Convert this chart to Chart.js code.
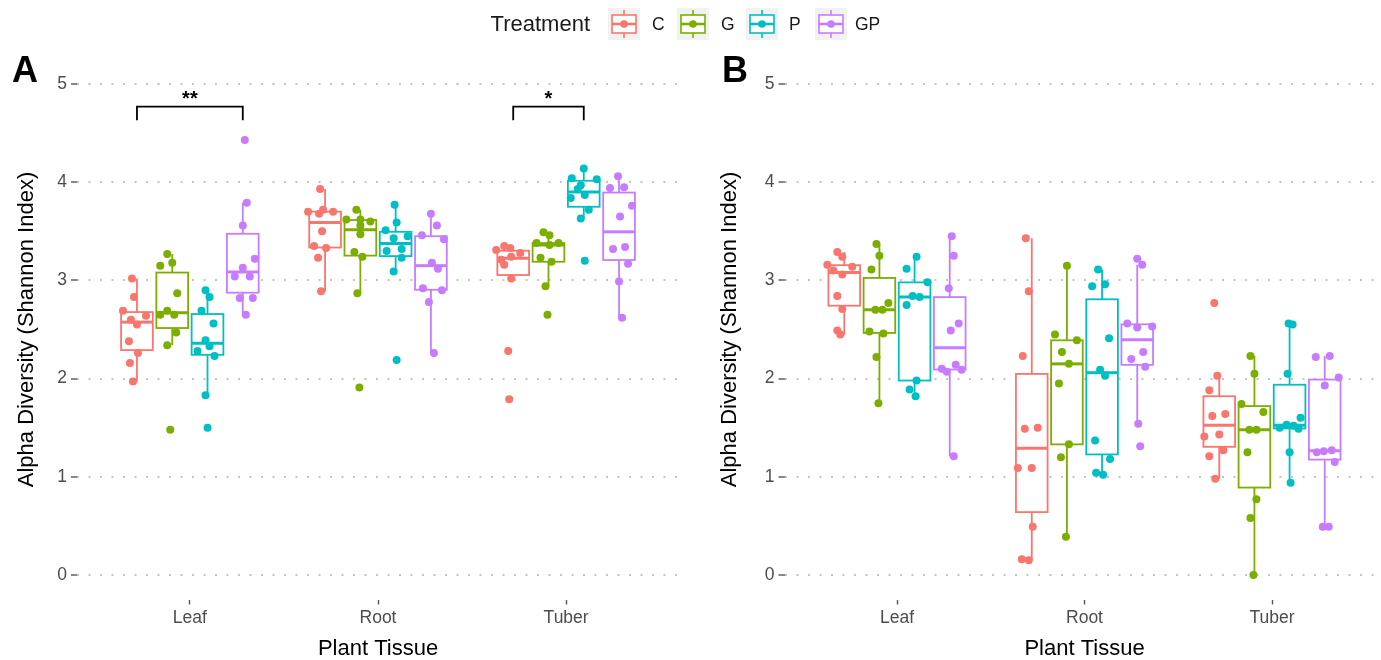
<!DOCTYPE html>
<html><head><meta charset="utf-8">
<script src="https://cdn.jsdelivr.net/npm/chart.js@4.4.1/dist/chart.umd.min.js"></script>
<style>
html,body{margin:0;padding:0;width:1381px;height:660px;overflow:hidden;background:#fff;font-family:"Liberation Sans",Arial,sans-serif;}
.wrap{position:absolute;top:0;height:660px;}
#wrapA{left:0;width:690px;}
#wrapB{left:690px;width:700px;}
.plabel{position:absolute;top:52px;font-size:36px;line-height:36px;font-weight:bold;color:#000;}
#ltitle{position:absolute;left:0;width:590px;text-align:right;top:13px;font-size:22px;line-height:22px;color:#1a1a1a;}
.lkey{position:absolute;top:8px;width:32px;height:32px;}
.ltext{position:absolute;top:15px;font-size:17.5px;line-height:18px;color:#1a1a1a;}
</style></head><body>
<div class="wrap" id="wrapA"><canvas id="cA" width="690" height="660" style="width:690px;height:660px"></canvas></div>
<div class="wrap" id="wrapB"><canvas id="cB" width="700" height="660" style="width:700px;height:660px"></canvas></div>
<div class="plabel" style="left:12px">A</div>
<div class="plabel" style="left:722px">B</div>
<div id="ltitle">Treatment</div>
<div id="legend"></div>
<script>
// ---------- data ----------
const categories = ['Leaf', 'Root', 'Tuber'];
const treatments = ['C', 'G', 'P', 'GP'];
const yTicks = [0, 1, 2, 3, 4, 5];

// Panel A values (Alpha Diversity, Shannon Index)
const A_Leaf_C  = [3.02, 2.83, 2.69, 2.64, 2.60, 2.55, 2.38, 2.26, 2.16, 1.97];
const A_Leaf_G  = [3.27, 3.15, 3.18, 2.87, 2.69, 2.65, 2.65, 2.47, 2.34, 1.48];
const A_Leaf_P  = [2.90, 2.83, 2.69, 2.56, 2.39, 2.28, 2.33, 2.23, 1.83, 1.50];
const A_Leaf_GP = [4.43, 3.79, 3.56, 3.22, 3.13, 3.04, 3.04, 2.82, 2.82, 2.65];
const A_Root_C  = [3.93, 3.70, 3.72, 3.70, 3.50, 3.35, 3.33, 3.23, 2.89, 3.68];
const A_Root_G  = [3.72, 3.62, 3.62, 3.60, 3.56, 3.47, 3.29, 3.24, 2.87, 1.91];
const A_Root_P  = [3.77, 3.59, 3.51, 3.43, 3.45, 3.32, 3.30, 3.23, 3.09, 2.19];
const A_Root_GP = [3.68, 3.56, 3.46, 3.42, 3.18, 3.12, 2.92, 2.90, 2.78, 2.26];
const A_Tuber_C  = [3.31, 3.35, 3.33, 3.28, 3.21, 3.24, 3.16, 3.02, 2.28, 1.79];
const A_Tuber_G  = [3.49, 3.46, 3.38, 3.38, 3.36, 3.23, 3.19, 2.94, 2.65];
const A_Tuber_P  = [4.14, 4.04, 4.03, 3.97, 3.93, 3.87, 3.84, 3.72, 3.63, 3.20];
const A_Tuber_GP = [4.06, 3.94, 3.95, 3.76, 3.65, 3.32, 3.34, 3.17, 2.99, 2.62];

// Panel B values
const B_Leaf_C  = [3.29, 3.24, 3.16, 3.14, 3.10, 3.06, 2.84, 2.71, 2.49, 2.45];
const B_Leaf_G  = [3.37, 3.25, 3.11, 2.77, 2.70, 2.70, 2.48, 2.46, 2.22, 1.75];
const B_Leaf_P  = [3.24, 3.12, 2.98, 2.84, 2.83, 2.75, 1.98, 1.89, 1.82];
const B_Leaf_GP = [3.45, 3.25, 2.92, 2.56, 2.49, 2.10, 2.07, 2.14, 2.09, 1.21];
const B_Root_C  = [3.43, 2.89, 2.23, 1.49, 1.50, 1.09, 1.09, 0.49, 0.16, 0.15];
const B_Root_G  = [3.15, 2.45, 2.39, 2.27, 2.15, 1.95, 1.33, 1.20, 0.39];
const B_Root_P  = [3.11, 2.96, 2.94, 2.41, 2.09, 2.03, 1.37, 1.18, 1.04, 1.02];
const B_Root_GP = [3.22, 3.16, 2.56, 2.52, 2.53, 2.27, 2.20, 2.12, 1.54, 1.31];
const B_Tuber_C  = [2.77, 2.03, 1.88, 1.62, 1.64, 1.41, 1.43, 1.21, 1.27, 0.98];
const B_Tuber_G  = [2.23, 2.05, 1.74, 1.66, 1.48, 1.48, 1.25, 0.77, 0.58, 0.00];
const B_Tuber_P  = [2.56, 2.55, 2.05, 1.60, 1.50, 1.53, 1.52, 1.49, 1.25, 0.94];
const B_Tuber_GP = [2.22, 2.23, 2.01, 1.93, 1.25, 1.26, 1.27, 1.15, 0.49, 0.49];

// Horizontal jitter of each point (steps of 1/188 category width)
const jA_Leaf_C  = [-5, -3, -14, 9, -6, 0, -8, 1, -7, -4];
const jA_Leaf_G  = [-5, -12, 0, 5, -5, -12, 2, 4, -5, -2];
const jA_Leaf_P  = [-2, 2, -6, 6, -2, -10, 2, 7, -2, 0];
const jA_Leaf_GP = [2, 4, 0, 12, 0, -8, 7, -3, 10, 3];
const jA_Root_C  = [-5, -17, -2, 8, -3, -11, 1, -7, -4, -6];
const jA_Root_G  = [-4, -14, 0, 10, 0, 0, -6, 2, -3, -1];
const jA_Root_P  = [-1, 1, -10, -2, 12, 6, -9, 6, -2, 1];
const jA_Root_GP = [0, 6, -9, 13, 1, 7, -8, 11, -2, 3];
const jA_Tuber_C  = [-17, -9, -3, 7, -12, -2, -9, -2, -5, -4];
const jA_Tuber_G  = [-5, 1, -12, 10, 1, -8, 3, -3, -1];
const jA_Tuber_P  = [0, -12, 13, -3, -6, 1, -13, 5, -3, 1];
const jA_Tuber_GP = [-1, -9, 5, 13, 1, -6, 6, 9, 0, 3];
const jB_Leaf_C  = [-7, -2, -17, 8, -11, -2, -7, -2, -7, -4];
const jB_Leaf_G  = [-3, 0, -8, 9, -4, 3, -10, 4, -3, -1];
const jB_Leaf_P  = [2, -8, 13, -2, 5, -8, 2, -5, 1];
const jB_Leaf_GP = [2, 4, -1, 9, 1, -8, -3, 6, 12, 4];
const jB_Root_C  = [-6, -3, -9, -7, 6, -14, 0, 1, -10, -3];
const jB_Root_G  = [0, -12, 10, -5, 2, -8, 2, -6, -1];
const jB_Root_P  = [-4, 3, -10, 7, -2, 3, -7, 8, -6, 1];
const jB_Root_GP = [0, 5, -10, 0, 15, 6, -6, 8, 1, 3];
const jB_Tuber_C  = [-5, -2, -10, -7, 6, -15, 0, -10, 4, -4];
const jB_Tuber_G  = [-4, 0, -13, 9, -5, 2, -7, 2, -4, -1];
const jB_Tuber_P  = [-1, 3, -2, 11, -10, -3, 4, 9, 0, 1];
const jB_Tuber_GP = [-9, 5, 14, 0, -8, -1, 7, 10, -2, 4];

// Significance brackets (panel A)
const sigA = [
  {tissue: 'Leaf',  from: 'C', to: 'GP', y: 4.77, tip: 0.14, label: '**'},
  {tissue: 'Tuber', from: 'C', to: 'P',  y: 4.77, tip: 0.14, label: '*'}
];
const sigB = [];

// ---------- styling ----------
const FONT = '"Liberation Sans", Arial, sans-serif';
const colors = {C: '#F8766D', G: '#7CAE00', P: '#00BFC4', GP: '#C77CFF'};
const DODGE = 0.1875, BOXW = 0.9 * 0.1875, JSTEP = 1 / 188;
const dodgeOf = t => (treatments.indexOf(t) - 1.5) * DODGE;
Chart.defaults.font.family = FONT;

const tableA = {
  Leaf:  {C: [A_Leaf_C, jA_Leaf_C], G: [A_Leaf_G, jA_Leaf_G], P: [A_Leaf_P, jA_Leaf_P], GP: [A_Leaf_GP, jA_Leaf_GP]},
  Root:  {C: [A_Root_C, jA_Root_C], G: [A_Root_G, jA_Root_G], P: [A_Root_P, jA_Root_P], GP: [A_Root_GP, jA_Root_GP]},
  Tuber: {C: [A_Tuber_C, jA_Tuber_C], G: [A_Tuber_G, jA_Tuber_G], P: [A_Tuber_P, jA_Tuber_P], GP: [A_Tuber_GP, jA_Tuber_GP]}
};
const tableB = {
  Leaf:  {C: [B_Leaf_C, jB_Leaf_C], G: [B_Leaf_G, jB_Leaf_G], P: [B_Leaf_P, jB_Leaf_P], GP: [B_Leaf_GP, jB_Leaf_GP]},
  Root:  {C: [B_Root_C, jB_Root_C], G: [B_Root_G, jB_Root_G], P: [B_Root_P, jB_Root_P], GP: [B_Root_GP, jB_Root_GP]},
  Tuber: {C: [B_Tuber_C, jB_Tuber_C], G: [B_Tuber_G, jB_Tuber_G], P: [B_Tuber_P, jB_Tuber_P], GP: [B_Tuber_GP, jB_Tuber_GP]}
};

function q7(s, p) {
  const h = (s.length - 1) * p, lo = Math.floor(h), hi = Math.min(lo + 1, s.length - 1);
  return s[lo] + (h - lo) * (s[hi] - s[lo]);
}
function boxStats(vals) {
  const s = [...vals].sort((a, b) => a - b);
  const q1 = q7(s, 0.25), med = q7(s, 0.5), q3 = q7(s, 0.75), iqr = q3 - q1;
  const inside = s.filter(v => v >= q1 - 1.5 * iqr && v <= q3 + 1.5 * iqr);
  return {q1, med, q3, lo: inside[0], hi: inside[inside.length - 1]};
}

function buildDatasets(table) {
  return treatments.map(t => ({
    label: t,
    data: categories.flatMap((c, ci) => {
      const [vals, jit] = table[c][t];
      return vals.map((v, i) => ({x: ci + 1 + dodgeOf(t) + jit[i] * JSTEP, y: v}));
    }),
    backgroundColor: colors[t],
    borderWidth: 0,
    pointRadius: 4,
    pointHoverRadius: 4
  }));
}

function boxPlugin(table) {
  return {
    id: 'boxes',
    beforeDatasetsDraw(chart) {
      const {ctx, scales: {x, y}} = chart;
      categories.forEach((c, ci) => treatments.forEach(t => {
        const st = boxStats(table[c][t][0]);
        const xc = ci + 1 + dodgeOf(t);
        const xl = x.getPixelForValue(xc - BOXW / 2), xr = x.getPixelForValue(xc + BOXW / 2), xm = x.getPixelForValue(xc);
        const yt = y.getPixelForValue(st.q3), yb = y.getPixelForValue(st.q1), ym = y.getPixelForValue(st.med);
        ctx.save();
        ctx.strokeStyle = colors[t];
        ctx.lineWidth = 1.8;
        ctx.beginPath();
        ctx.moveTo(xm, y.getPixelForValue(st.hi)); ctx.lineTo(xm, yt);
        ctx.moveTo(xm, yb); ctx.lineTo(xm, y.getPixelForValue(st.lo));
        ctx.stroke();
        ctx.fillStyle = '#fff';
        ctx.fillRect(xl, yt, xr - xl, yb - yt);
        ctx.strokeRect(xl, yt, xr - xl, yb - yt);
        ctx.lineWidth = 3;
        ctx.beginPath(); ctx.moveTo(xl, ym); ctx.lineTo(xr, ym); ctx.stroke();
        ctx.restore();
      }));
    }
  };
}

function sigPlugin(sigs) {
  return {
    id: 'sig',
    afterDatasetsDraw(chart) {
      const {ctx, scales: {x, y}} = chart;
      sigs.forEach(s => {
        const ci = categories.indexOf(s.tissue) + 1;
        const x1 = x.getPixelForValue(ci + dodgeOf(s.from)), x2 = x.getPixelForValue(ci + dodgeOf(s.to));
        const yl = y.getPixelForValue(s.y), yb = y.getPixelForValue(s.y - s.tip);
        ctx.save();
        ctx.strokeStyle = '#000'; ctx.lineWidth = 1.8;
        ctx.beginPath(); ctx.moveTo(x1, yb); ctx.lineTo(x1, yl); ctx.lineTo(x2, yl); ctx.lineTo(x2, yb); ctx.stroke();
        ctx.fillStyle = '#000'; ctx.font = 'bold 20px ' + FONT; ctx.textAlign = 'center'; ctx.textBaseline = 'alphabetic';
        ctx.fillText(s.label, (x1 + x2) / 2, yl - 2);
        ctx.restore();
      });
    }
  };
}

function makeChart(id, table, sigs, lay) {
  new Chart(document.getElementById(id), {
    type: 'scatter',
    data: {datasets: buildDatasets(table)},
    plugins: [boxPlugin(table), sigPlugin(sigs)],
    options: {
      responsive: false, animation: false, events: [],
      layout: {padding: {top: 59.5, right: lay.right, bottom: 0, left: 0}},
      plugins: {legend: {display: false}, tooltip: {enabled: false}},
      scales: {
        x: {
          type: 'linear', min: 0.4, max: 3.6,
          afterBuildTicks: s => { s.ticks = categories.map((c, i) => ({value: i + 1})); },
          afterFit: s => { s.height = 60.5; },
          ticks: {callback: v => categories[v - 1], color: '#4d4d4d', font: {size: 17.5}, padding: 3, maxRotation: 0, autoSkip: false},
          grid: {display: true, drawOnChartArea: false, drawTicks: true, tickLength: 5, tickColor: '#555', tickWidth: 1.4},
          border: {display: false},
          title: {display: true, text: 'Plant Tissue', color: '#000', font: {size: 22, lineHeight: 1}, padding: {top: 0, bottom: 0}}
        },
        y: {
          type: 'linear', min: -0.25, max: 5.25,
          afterBuildTicks: s => { s.ticks = yTicks.map(v => ({value: v})); },
          afterFit: s => { s.width = lay.yw; },
          ticks: {color: '#4d4d4d', font: {size: 17.5}, padding: 4},
          grid: {color: '#c4c4c4', lineWidth: 2, drawTicks: true, tickLength: 6, tickColor: '#555', tickWidth: 1.4, tickBorderDash: []},
          border: {display: false, dash: [2, 9.5]},
          title: {display: true, text: 'Alpha Diversity (Shannon Index)', color: '#000', font: {size: 22, lineHeight: 1}, padding: {top: lay.tp, bottom: 0}}
        }
      }
    }
  });
}

makeChart('cA', tableA, sigA, {right: 11, yw: 77, tp: 16});
makeChart('cB', tableB, sigB, {right: 5.5, yw: 94.5, tp: 29});

// ---------- legend ----------
const keyX = [608, 677, 746, 815], txtX = [652, 721, 789, 855];
const leg = document.getElementById('legend');
treatments.forEach((t, i) => {
  const c = colors[t];
  leg.insertAdjacentHTML('beforeend',
    `<svg class="lkey" style="left:${keyX[i]}px" width="32" height="32" viewBox="0 0 32 32">
      <rect x="0" y="0" width="32" height="32" fill="#f2f2f2"/>
      <line x1="16" y1="2" x2="16" y2="30" stroke="${c}" stroke-width="1.6"/>
      <rect x="4" y="7" width="24" height="18" fill="#fff" stroke="${c}" stroke-width="1.6"/>
      <line x1="4" y1="16" x2="28" y2="16" stroke="${c}" stroke-width="2.6"/>
      <circle cx="16" cy="16" r="3.8" fill="${c}"/>
    </svg><div class="ltext" style="left:${txtX[i]}px">${t}</div>`);
});
</script>
</body></html>
